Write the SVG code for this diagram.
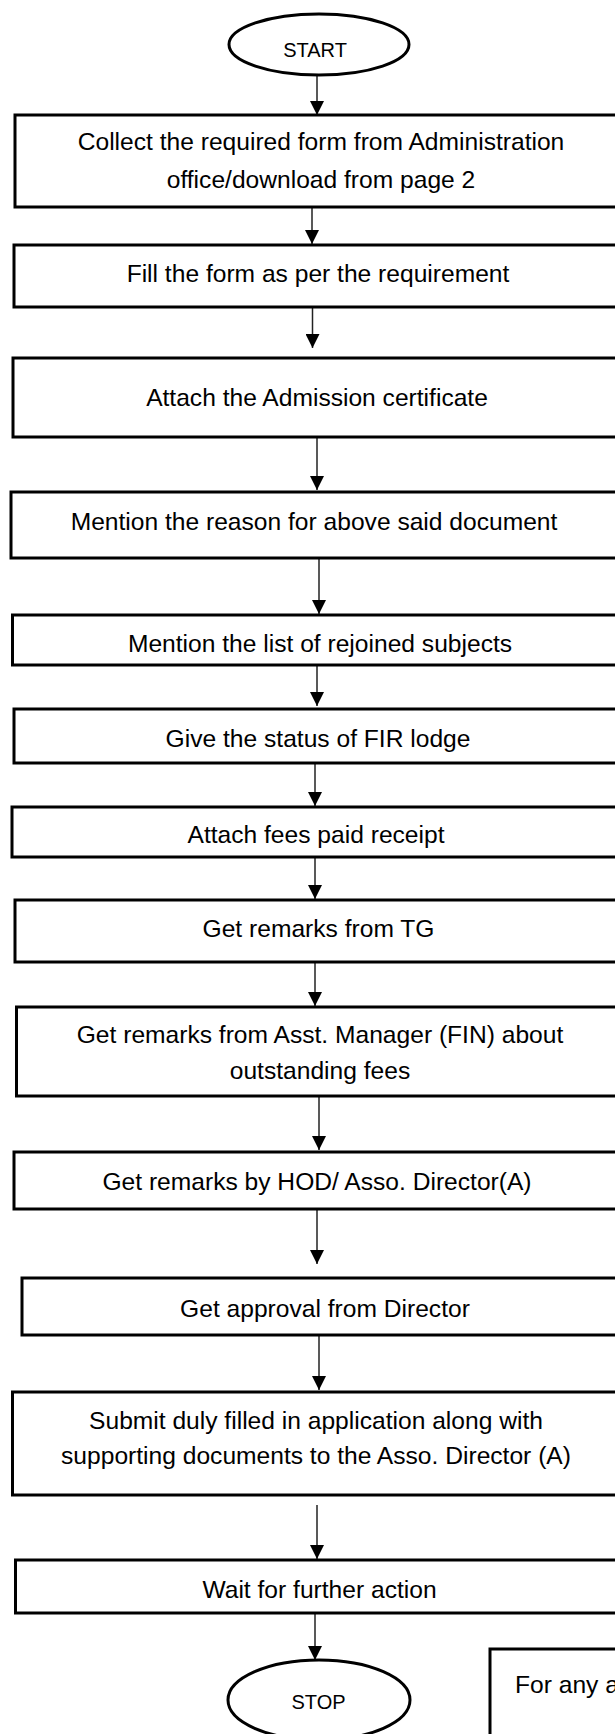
<svg xmlns="http://www.w3.org/2000/svg" width="615" height="1734" viewBox="0 0 615 1734">
<defs>
<style>
.box{fill:#fff;stroke:#000;stroke-width:3}
.term{fill:#fff;stroke:#000;stroke-width:3}
.t{font-family:"Liberation Sans",Arial,sans-serif;font-size:24.6px;fill:#000;text-anchor:middle}
.tt{font-family:"Liberation Sans",Arial,sans-serif;font-size:20px;fill:#000;text-anchor:middle}
.tl{font-family:"Liberation Sans",Arial,sans-serif;font-size:24.6px;fill:#000}
.c{stroke:#222;stroke-width:1.5;fill:none;marker-end:url(#ah)}
</style>
<marker id="ah" markerWidth="16" markerHeight="14" refX="14" refY="7" orient="auto" markerUnits="userSpaceOnUse">
<path d="M0,0 L14,7 L0,14 Z" fill="#000"/>
</marker>
</defs>
<rect width="615" height="1734" fill="#fff"/>
<g id="connectors">
<line class="c" x1="317" y1="76" x2="317" y2="115"/>
<line class="c" x1="312" y1="208" x2="312" y2="244"/>
<line class="c" x1="312.5" y1="308" x2="312.5" y2="348"/>
<line class="c" x1="317" y1="438" x2="317" y2="490"/>
<line class="c" x1="319" y1="559" x2="319" y2="614"/>
<line class="c" x1="317" y1="666" x2="317" y2="706"/>
<line class="c" x1="315" y1="764" x2="315" y2="806"/>
<line class="c" x1="315" y1="858" x2="315" y2="899"/>
<line class="c" x1="315" y1="963" x2="315" y2="1006"/>
<line class="c" x1="319" y1="1097" x2="319" y2="1150"/>
<line class="c" x1="317" y1="1210" x2="317" y2="1264"/>
<line class="c" x1="319" y1="1336" x2="319" y2="1390"/>
<line class="c" x1="317" y1="1505" x2="317" y2="1559"/>
<line class="c" x1="315" y1="1614" x2="315" y2="1660"/>
</g>
<g id="start">
<ellipse class="term" cx="319" cy="44.5" rx="90" ry="30.5"/>
<text class="tt" x="315" y="57">START</text>
</g>
<g id="n1">
<rect class="box" x="15" y="115" width="630" height="92"/>
<text class="t" x="321" y="150">Collect the required form from Administration</text>
<text class="t" x="321" y="188">office/download from page 2</text>
</g>
<g id="n2">
<rect class="box" x="14" y="245" width="630" height="62"/>
<text class="t" x="318" y="282">Fill the form as per the requirement</text>
</g>
<g id="n3">
<rect class="box" x="13" y="358" width="630" height="79"/>
<text class="t" x="317" y="406">Attach the Admission certificate</text>
</g>
<g id="n4">
<rect class="box" x="11" y="492" width="630" height="66"/>
<text class="t" x="314" y="530">Mention the reason for above said document</text>
</g>
<g id="n5">
<rect class="box" x="12.5" y="615" width="630" height="50"/>
<text class="t" x="320" y="652">Mention the list of rejoined subjects</text>
</g>
<g id="n6">
<rect class="box" x="14" y="709" width="630" height="54"/>
<text class="t" x="318" y="747">Give the status of FIR lodge</text>
</g>
<g id="n7">
<rect class="box" x="12" y="807" width="630" height="50"/>
<text class="t" x="316" y="843">Attach fees paid receipt</text>
</g>
<g id="n8">
<rect class="box" x="15" y="900" width="630" height="62"/>
<text class="t" x="318.5" y="937">Get remarks from TG</text>
</g>
<g id="n9">
<rect class="box" x="16.5" y="1007" width="630" height="89"/>
<text class="t" x="320" y="1043">Get remarks from Asst. Manager (FIN) about</text>
<text class="t" x="320" y="1079">outstanding fees</text>
</g>
<g id="n10">
<rect class="box" x="14" y="1152" width="630" height="57"/>
<text class="t" x="317" y="1190">Get remarks by HOD/ Asso. Director(A)</text>
</g>
<g id="n11">
<rect class="box" x="22" y="1278" width="630" height="57"/>
<text class="t" x="325" y="1317">Get approval from Director</text>
</g>
<g id="n12">
<rect class="box" x="12.5" y="1392" width="630" height="103"/>
<text class="t" x="316" y="1429">Submit duly filled in application along with</text>
<text class="t" x="316" y="1464">supporting documents to the Asso. Director (A)</text>
</g>
<g id="n13">
<rect class="box" x="15.5" y="1560" width="630" height="53"/>
<text class="t" x="319.5" y="1598">Wait for further action</text>
</g>
<g id="stop">
<ellipse class="term" cx="319" cy="1700" rx="91" ry="40"/>
<text class="tt" x="318.5" y="1709">STOP</text>
</g>
<g id="note">
<rect class="box" x="490" y="1649" width="200" height="120" stroke-width="4"/>
<text class="tl" x="515" y="1693">For any a</text>
</g>
</svg>
